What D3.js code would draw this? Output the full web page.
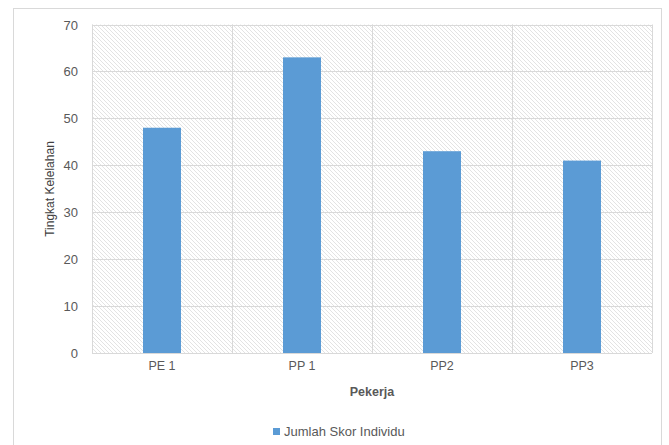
<!DOCTYPE html>
<html><head><meta charset="utf-8">
<script src="https://cdn.jsdelivr.net/npm/d3@7"></script>
<style>
html,body{margin:0;padding:0;background:#fff;}
svg{display:block;font-family:"Liberation Sans",Arial,sans-serif;}
</style></head>
<body>
<svg id="chart" width="669" height="445"></svg>
<script>
const categories = ["PE 1", "PP 1", "PP2", "PP3"];
const values = [48, 63, 43, 41];
const yTicks = [0, 10, 20, 30, 40, 50, 60, 70];
const seriesName = "Jumlah Skor Individu";
const xTitle = "Pekerja";
const yTitle = "Tingkat Kelelahan";

const svg = d3.select("#chart");
const pLeft = 92, pRight = 652, pTop = 24.5, pBottom = 353;

// chart border
svg.append("rect").attr("x", 13.5).attr("y", 8.5).attr("width", 648).attr("height", 460)
  .attr("fill", "#fff").attr("stroke", "#d9d9d9").attr("stroke-width", 1);

// hatch pattern
const defs = svg.append("defs");
const pat = defs.append("pattern").attr("id", "hatch").attr("patternUnits", "userSpaceOnUse")
  .attr("width", 4).attr("height", 4);
pat.append("rect").attr("width", 4).attr("height", 4).attr("fill", "#fff");
pat.append("path").attr("d", "M-1,-1 L5,5 M-1,3 L1,5 M3,-1 L5,1")
  .attr("stroke", "#e3e3e3").attr("stroke-width", 1);

const x = d3.scaleBand().domain(categories).range([pLeft, pRight]).paddingInner(0).paddingOuter(0);
const y = d3.scaleLinear().domain([0, 70]).range([pBottom, pTop]);

svg.append("rect").attr("x", pLeft).attr("y", pTop).attr("width", pRight - pLeft).attr("height", pBottom - pTop)
  .attr("fill", "url(#hatch)");

// gridlines
const g = svg.append("g");
g.selectAll("line.h").data(yTicks).join("line")
  .attr("x1", pLeft).attr("x2", pRight)
  .attr("y1", d => Math.round(y(d)) + 0.5).attr("y2", d => Math.round(y(d)) + 0.5)
  .attr("stroke", "#d9d9d9").attr("stroke-width", 1);
const bounds = categories.map(c => x(c)).concat([pRight]);
g.selectAll("line.v").data(bounds).join("line")
  .attr("x1", d => Math.round(d) + 0.5).attr("x2", d => Math.round(d) + 0.5)
  .attr("y1", pTop).attr("y2", pBottom)
  .attr("stroke", "#d9d9d9").attr("stroke-width", 1);

// bars
const barW = 38;
svg.append("g").selectAll("rect").data(values).join("rect")
  .attr("x", (d, i) => x(categories[i]) + x.bandwidth() / 2 - barW / 2)
  .attr("y", d => y(d))
  .attr("width", barW)
  .attr("height", d => y(0) - y(d))
  .attr("fill", "#5b9bd5");

// y axis labels
const yAxis = d3.axisLeft(y).tickValues(yTicks).tickSize(0).tickPadding(0);
const ya = svg.append("g").attr("transform", `translate(${pLeft - 14},0)`).call(yAxis);
ya.select(".domain").remove();
ya.selectAll("text").attr("font-size", 13).attr("fill", "#595959")
  .attr("font-family", "Liberation Sans, Arial, sans-serif").attr("dy", "0.35em");

// x axis labels
const xAxis = d3.axisBottom(x).tickSize(0).tickPadding(0);
const xa = svg.append("g").attr("transform", `translate(0,${pBottom + 8})`).call(xAxis);
xa.select(".domain").remove();
xa.selectAll("text").attr("font-size", 12.5).attr("fill", "#595959")
  .attr("font-family", "Liberation Sans, Arial, sans-serif").attr("dy", "0.75em");

// axis titles
svg.append("text").attr("x", (pLeft + pRight) / 2).attr("y", 396).attr("text-anchor", "middle")
  .attr("font-size", 12.5).attr("font-weight", "bold").attr("fill", "#595959").text(xTitle);
svg.append("text").attr("transform", `translate(54,189) rotate(-90)`).attr("text-anchor", "middle")
  .attr("font-size", 12).attr("fill", "#404040").text(yTitle);

// legend
const lg = svg.append("g");
lg.append("rect").attr("x", 273).attr("y", 428).attr("width", 7).attr("height", 7).attr("fill", "#5b9bd5");
lg.append("text").attr("x", 284).attr("y", 435.5).attr("font-size", 13).attr("fill", "#595959").text(seriesName);
</script>
</body></html>
